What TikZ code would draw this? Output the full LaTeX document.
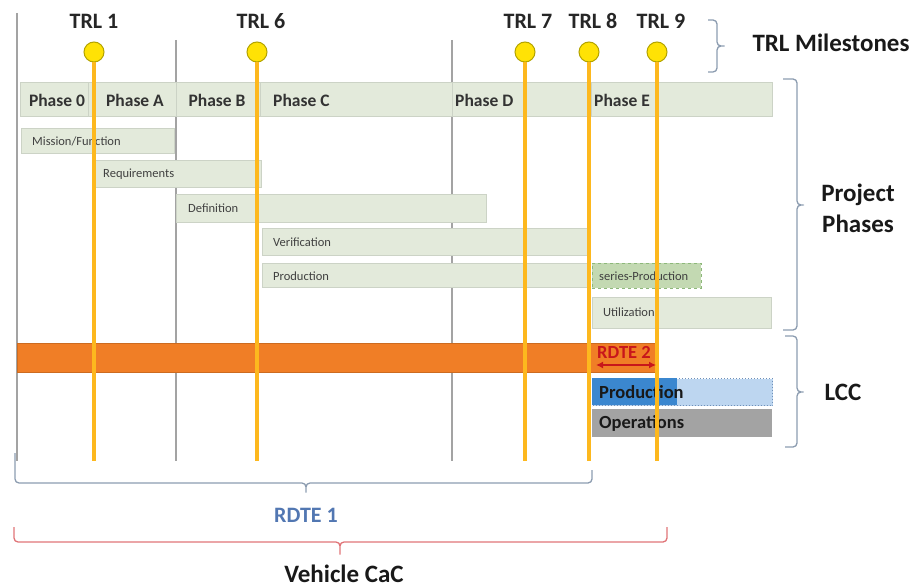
\documentclass[tikz,border=0pt]{standalone}
\usepackage{fontspec}
\setmainfont{Carlito}
\usetikzlibrary{arrows.meta}
\definecolor{taskfill}{HTML}{E3EADB}
\definecolor{taskborder}{HTML}{CCD3C6}
\definecolor{seriesfill}{HTML}{C3D9B2}
\definecolor{seriesborder}{HTML}{8DB87A}
\definecolor{orangebar}{HTML}{F07E26}
\definecolor{trlline}{HTML}{FDB81E}
\definecolor{trlfill}{HTML}{FFE205}
\definecolor{trlborder}{HTML}{B3A300}
\definecolor{gridgrey}{HTML}{A3A3A3}
\definecolor{darkblue}{HTML}{3B87CF}
\definecolor{lightblue}{HTML}{BDD6F0}
\definecolor{dotblue}{HTML}{7090B8}
\definecolor{opgrey}{HTML}{A3A3A3}
\definecolor{bracegrey}{HTML}{8C9CB0}
\definecolor{bracered}{HTML}{E07478}
\definecolor{rdteblue}{HTML}{5277B2}
\definecolor{rdtered}{HTML}{C8161B}
\begin{document}
\begin{tikzpicture}[x=1pt,y=-1pt,
  trllabel/.style={font=\fontsize{22}{24}\selectfont\bfseries, text=black!85},
  phaselabel/.style={font=\fontsize{17.5}{20}\selectfont\bfseries, text=black!80},
  cellbox/.style={draw=taskborder, fill=taskfill, anchor=north west, inner sep=0pt, line width=0.8pt},
  tasktext/.style={font=\fontsize{12.5}{14}\selectfont, text=black!75, anchor=west, inner sep=0pt},
  bigtext/.style={font=\fontsize{25}{31}\selectfont\bfseries, text=black!90, align=center},
  lcctext/.style={font=\fontsize{18.5}{20}\selectfont\bfseries, text=black!90, anchor=west, inner sep=0pt},
  gridline/.style={draw=gridgrey, line width=1.3pt},
  trlwire/.style={draw=trlline, line width=3.2pt},
  trldot/.style={circle, draw=trlborder, fill=trlfill, line width=1pt, minimum size=20pt, inner sep=0pt},
  bracket/.style={line width=1.3pt, rounded corners=4pt}
]
\useasboundingbox (0,0) rectangle (916,588);

% grey verticals
\coordinate (g1t) at (17,13);  \coordinate (g1b) at (17,461);
\coordinate (g2t) at (176,40); \coordinate (g2b) at (176,461);
\coordinate (g3t) at (452,40); \coordinate (g3b) at (452,461);
\draw[gridline] (g1t) -- (g1b);
\draw[gridline] (g2t) -- (g2b);
\draw[gridline] (g3t) -- (g3b);

% phase bar
\node[cellbox, minimum width=68pt, minimum height=34pt] (p0) at (20,82) {};
\node[cellbox, minimum width=88pt, minimum height=34pt] (pA) at (88,82) {};
\node[cellbox, minimum width=84pt, minimum height=34pt] (pB) at (176,82) {};
\node[cellbox, minimum width=192pt, minimum height=34pt] (pC) at (260,82) {};
\node[cellbox, minimum width=139pt, minimum height=34pt] (pD) at (452,82) {};
\node[cellbox, minimum width=181pt, minimum height=34pt] (pE) at (591,82) {};
\node[phaselabel] (t0) at (57,100) {Phase 0};
\node[phaselabel] (tA) at (135,100) {Phase A};
\node[phaselabel] (tB) at (217,100) {Phase B};
\node[phaselabel, anchor=west, inner sep=0pt] (tC) at (273,100) {Phase C};
\node[phaselabel, anchor=west, inner sep=0pt] (tD) at (455,100) {Phase D};
\node[phaselabel, anchor=west, inner sep=0pt] (tE) at (594,100) {Phase E};

% task bars
\node[cellbox, minimum width=153pt, minimum height=25pt] (mis) at (21,128) {};
\node[tasktext] (mist) at (32,141) {Mission/Function};
\node[cellbox, minimum width=168pt, minimum height=27pt] (req) at (93,160) {};
\node[tasktext] (reqt) at (103,174) {Requirements};
\node[cellbox, minimum width=310pt, minimum height=28pt] (def) at (176,194) {};
\node[tasktext] (deft) at (188,208) {Definition};
\node[cellbox, minimum width=325pt, minimum height=27pt] (ver) at (262,228) {};
\node[tasktext] (vert) at (273,242) {Verification};
\node[cellbox, minimum width=325pt, minimum height=24pt] (prd) at (262,263) {};
\node[tasktext] (prdt) at (273,276) {Production};
\node[cellbox, draw=seriesborder, fill=seriesfill, dashed, minimum width=109pt, minimum height=25pt] (ser) at (592,263) {};
\node[tasktext] (sert) at (599,276) {series-Production};
\node[cellbox, minimum width=179pt, minimum height=31pt] (uti) at (592,297) {};
\node[tasktext] (utit) at (603,312) {Utilization};

% orange RDTE bar
\node[draw=orangebar!85!black, fill=orangebar, line width=0.6pt, anchor=north west, inner sep=0pt, minimum width=640pt, minimum height=29pt] (obar) at (17,343) {};

% LCC boxes
\node[draw=dotblue, dotted, fill=lightblue, line width=1pt, anchor=north west, inner sep=0pt, minimum width=180pt, minimum height=27pt] (lprod) at (592,378) {};
\node[fill=darkblue, anchor=north west, inner sep=0pt, minimum width=85pt, minimum height=27pt] (dprod) at (592,378) {};
\node[lcctext] (lprodt) at (599,392) {Production};
\node[fill=opgrey, anchor=north west, inner sep=0pt, minimum width=180pt, minimum height=28pt] (ops) at (592,409) {};
\node[lcctext] (opst) at (599,423) {Operations};

% TRL milestones
\node[trldot] (c1) at (94,52) {};
\node[trldot] (c6) at (257,52) {};
\node[trldot] (c7) at (525,52) {};
\node[trldot] (c8) at (589,52) {};
\node[trldot] (c9) at (657,52) {};
\coordinate (e1) at (94,461);
\coordinate (e6) at (257,461);
\coordinate (e7) at (525,461);
\coordinate (e8) at (589,461);
\coordinate (e9) at (657,461);
\draw[trlwire] (c1.south) -- (e1);
\draw[trlwire] (c6.south) -- (e6);
\draw[trlwire] (c7.south) -- (e7);
\draw[trlwire] (c8.south) -- (e8);
\draw[trlwire] (c9.south) -- (e9);
\node[trllabel] (l1) at (94,21) {TRL 1};
\node[trllabel] (l6) at (261,21) {TRL 6};
\node[trllabel] (l7) at (528,21) {TRL 7};
\node[trllabel] (l8) at (593,21) {TRL 8};
\node[trllabel] (l9) at (661,21) {TRL 9};

% RDTE 2
\node[font=\fontsize{18.5}{20}\selectfont\bfseries, text=rdtered] (r2) at (624,352) {RDTE 2};
\coordinate (r2a) at (596,365);
\coordinate (r2b) at (656,365);
\draw[rdtered, line width=1.6pt, {Latex[length=7pt,width=7pt]}-{Latex[length=7pt,width=7pt]}] (r2a) -- (r2b);

% right braces
\draw[bracket, bracegrey] (708,20) -- (717,20) -- (717,46) -- (727,46) -- (717,46) -- (717,72) -- (708,72);
\node[bigtext] (trlm) at (831,43) {TRL Milestones};
\draw[bracket, bracegrey] (783,79) -- (797,79) -- (797,205) -- (803,205) -- (797,205) -- (797,330) -- (783,330);
\node[bigtext] (pph) at (858,208) {Project\\Phases};
\draw[bracket, bracegrey] (785,336) -- (797,336) -- (797,392) -- (806,392) -- (797,392) -- (797,447) -- (785,447);
\node[bigtext] (lcc) at (843,392) {LCC};

% bottom braces
\draw[bracket, bracegrey] (15,453) -- (15,483) -- (306,483) -- (306,495) -- (306,483) -- (592,483) -- (592,470);
\node[font=\fontsize{22}{24}\selectfont\bfseries, text=rdteblue] (r1) at (306,515) {RDTE 1};
\draw[bracket, bracered] (14,527) -- (14,542) -- (340,542) -- (340,557) -- (340,542) -- (667,542) -- (667,527);
\node[bigtext] (veh) at (344,574) {Vehicle CaC};
\end{tikzpicture}
\end{document}
